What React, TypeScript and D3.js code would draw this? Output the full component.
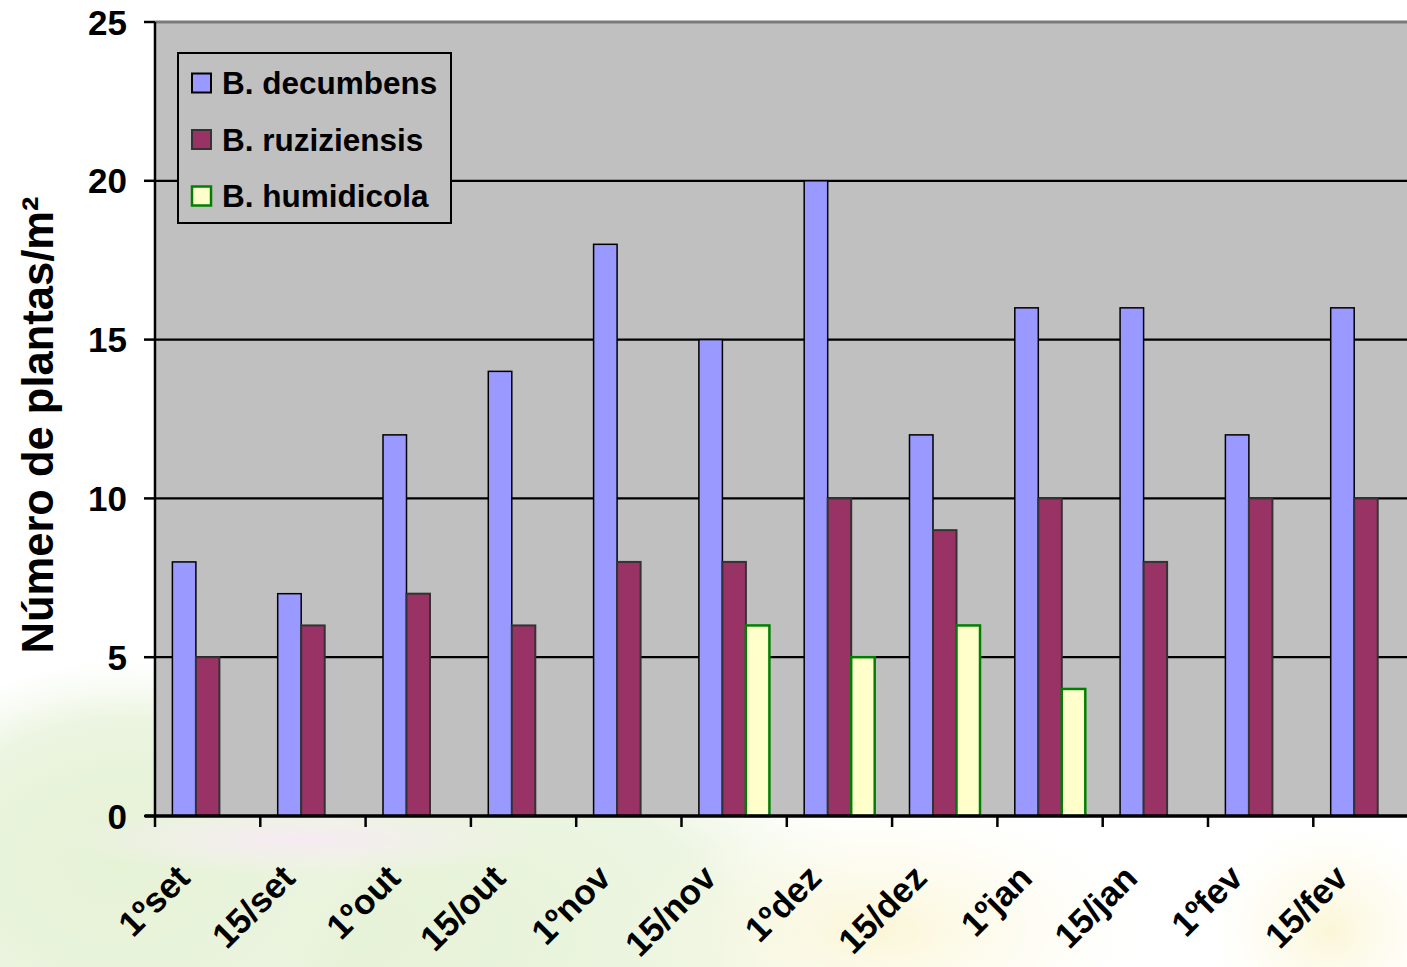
import React from "react";
import * as d3 from "d3";

// Sampling dates (day/month, Portuguese)
const categories = ["1ºset", "15/set", "1ºout", "15/out", "1ºnov", "15/nov", "1ºdez", "15/dez", "1ºjan", "15/jan", "1ºfev", "15/fev"];

// Plants per square metre, per species
const decumbens = [8, 7, 12, 14, 18, 15, 20, 12, 16, 16, 12, 16];
const ruziziensis = [5, 6, 7, 6, 8, 8, 10, 9, 10, 8, 10, 10];
const humidicola: (number | null)[] = [null, null, null, null, null, 6, 5, 6, 4, null, null, null];

const seriesNames = ["B. decumbens", "B. ruziziensis", "B. humidicola"];
const yTicks = [0, 5, 10, 15, 20, 25];

const W = 1407;
const H = 967;
const FONT = "'Liberation Sans', Arial, Helvetica, sans-serif";

const styles = [
  { fill: "#9999FF", stroke: "#000000", sw: 1.5 },
  { fill: "#993366", stroke: "#333333", sw: 2 },
  { fill: "#FFFFCC", stroke: "#008000", sw: 2.5 },
];

export default function App() {
  const left = 155;
  const top = 22;
  const bottom = 816;
  const step = 105.3;
  const right = left + step * categories.length;

  const x = d3.scaleBand<string>().domain(categories).range([left, right]).padding(0);
  const inner = d3
    .scaleBand<string>()
    .domain(seriesNames)
    .range([0, x.bandwidth()])
    .paddingInner(0)
    .paddingOuter(0.74);
  const y = d3.scaleLinear().domain([0, 25]).range([bottom, top]);

  const data = [decumbens, ruziziensis, humidicola];

  return (
    <svg
      width={W}
      height={H}
      viewBox={`0 0 ${W} ${H}`}
      style={{ position: "absolute", left: 0, top: 0, display: "block", overflow: "hidden" }}
    >
      <defs>
        <radialGradient id="bgGreen" cx="0.5" cy="0.5" r="0.5">
          <stop offset="0" stopColor="#E6F2D6" stopOpacity="1" />
          <stop offset="0.7" stopColor="#EAF4DE" stopOpacity="0.9" />
          <stop offset="1" stopColor="#F2F8EA" stopOpacity="0" />
        </radialGradient>
        <radialGradient id="bgYellow" cx="0.5" cy="0.5" r="0.5">
          <stop offset="0" stopColor="#FBF6D8" stopOpacity="1" />
          <stop offset="1" stopColor="#FDFBEA" stopOpacity="0" />
        </radialGradient>
        <radialGradient id="bgPink" cx="0.5" cy="0.5" r="0.5">
          <stop offset="0" stopColor="#F6EAF2" stopOpacity="1" />
          <stop offset="1" stopColor="#F8F0F4" stopOpacity="0" />
        </radialGradient>
        <clipPath id="pageClip">
          <rect x={0} y={0} width={W} height={H} />
        </clipPath>
      </defs>

      <rect x={0} y={0} width={W} height={H} fill="#FFFFFF" />
      {/* soft backdrop artwork behind the lower part of the chart */}
      <g clipPath="url(#pageClip)">
        <ellipse cx={330} cy={930} rx={560} ry={260} fill="url(#bgGreen)" />
        <ellipse cx={120} cy={860} rx={260} ry={200} fill="url(#bgGreen)" />
        <ellipse cx={880} cy={930} rx={260} ry={130} fill="url(#bgYellow)" />
        <ellipse cx={1330} cy={930} rx={120} ry={110} fill="url(#bgYellow)" />
        <ellipse cx={300} cy={840} rx={240} ry={35} fill="url(#bgPink)" />
      </g>

      {/* plot area */}
      <rect x={left} y={top} width={right - left} height={bottom - top} fill="#C0C0C0" />

      {/* gridlines */}
      {yTicks
        .filter((t) => t > 0 && t < 25)
        .map((t) => (
          <line key={`g${t}`} x1={left} x2={right} y1={y(t)} y2={y(t)} stroke="#000" strokeWidth={2.2} />
        ))}
      <line x1={left} x2={right} y1={y(25)} y2={y(25)} stroke="#7A7A7A" strokeWidth={3} />

      {/* bars */}
      {data.map((vals, si) =>
        vals.map((v, ci) => {
          if (v == null) return null;
          const bx = (x(categories[ci]) as number) + (inner(seriesNames[si]) as number);
          const st = styles[si];
          return (
            <rect
              key={`b${si}-${ci}`}
              x={bx}
              y={y(v)}
              width={inner.bandwidth()}
              height={y(0) - y(v)}
              fill={st.fill}
              stroke={st.stroke}
              strokeWidth={st.sw}
            />
          );
        })
      )}

      {/* axes */}
      <line x1={left} x2={left} y1={top} y2={bottom} stroke="#000" strokeWidth={2.5} />
      <line x1={left - 10} x2={right} y1={bottom} y2={bottom} stroke="#000" strokeWidth={3.5} />
      {yTicks.map((t) => (
        <g key={`yt${t}`}>
          <line x1={left - 11} x2={left} y1={y(t)} y2={y(t)} stroke="#000" strokeWidth={2.5} />
          <text
            x={127}
            y={y(t)}
            dy="0.36em"
            textAnchor="end"
            fontFamily={FONT}
            fontWeight="bold"
            fontSize={35}
            fill="#000"
          >
            {t}
          </text>
        </g>
      ))}
      {categories.map((c, i) => {
        const tx = left + i * step;
        const cx = (x(c) as number) + x.bandwidth() / 2;
        return (
          <g key={`xt${i}`}>
            <line x1={tx} x2={tx} y1={bottom} y2={bottom + 11} stroke="#000" strokeWidth={2.5} />
            <text
              transform={`translate(${cx - 16},${880}) rotate(-45)`}
              textAnchor="end"
              fontFamily={FONT}
              fontWeight="bold"
              fontSize={35}
              fill="#000"
            >
              {c}
            </text>
          </g>
        );
      })}

      {/* y-axis title */}
      <text
        transform={`translate(53,${425}) rotate(-90)`}
        textAnchor="middle"
        fontFamily={FONT}
        fontWeight="bold"
        fontSize={43.5}
        fill="#000"
      >
        Número de plantas/m²
      </text>

      {/* legend */}
      <rect x={178} y={53} width={273} height={170} fill="#C0C0C0" stroke="#000" strokeWidth={2} />
      {seriesNames.map((n, i) => {
        const cy = 83 + i * 56.5;
        const st = styles[i];
        return (
          <g key={`lg${i}`}>
            <rect
              x={192}
              y={cy - 9.5}
              width={19}
              height={19}
              fill={st.fill}
              stroke={i === 0 ? "#000" : st.stroke}
              strokeWidth={i === 2 ? 2.5 : 2}
            />
            <text x={222} y={cy} dy="0.36em" fontFamily={FONT} fontWeight="bold" fontSize={31.5} fill="#000">
              {n}
            </text>
          </g>
        );
      })}
    </svg>
  );
}
